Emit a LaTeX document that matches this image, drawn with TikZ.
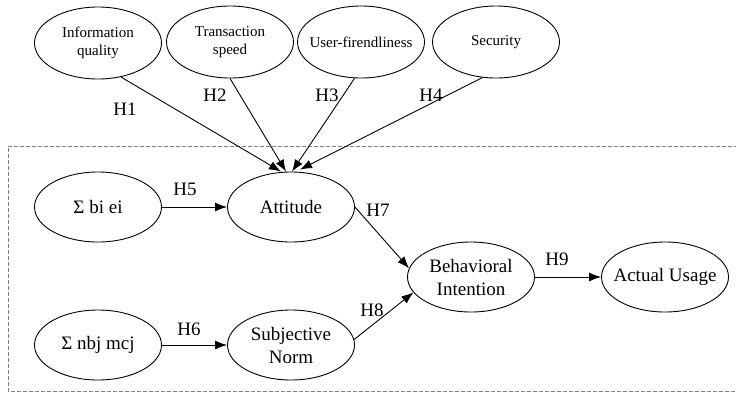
\documentclass[tikz,border=0pt]{standalone}
\usepackage{fontspec}
\setmainfont{Liberation Serif}
\usetikzlibrary{shapes.geometric,arrows.meta}
\begin{document}
\begin{tikzpicture}[x=1pt,y=-1pt]
\tikzstyle{factor}=[draw,ellipse,line width=0.9pt,inner xsep=-15pt,inner ysep=0pt,minimum width=127pt,minimum height=72pt,align=center,font=\rmfamily\fontsize{15}{18}\selectfont]
\tikzstyle{construct}=[draw,ellipse,line width=0.9pt,inner xsep=-15pt,inner ysep=0pt,minimum width=127pt,minimum height=70pt,align=center,font=\rmfamily\fontsize{19}{23}\selectfont]
\tikzstyle{link}=[line width=0.9pt,-{Latex[length=12pt,width=9pt]}]
\tikzstyle{hyp}=[inner sep=0pt,font=\rmfamily\fontsize{19}{20}\selectfont]
\useasboundingbox (0,0) rectangle (736,392);
% dashed boundary of the TRA part
\draw[gray,dash pattern=on 4pt off 2pt,line width=0.7pt] (738,146) -- (8,146) -- (8,391) -- (738,391);
% external factors
\node[factor] (info) at (98,43) {Information\\quality};
\node[factor] (speed) at (230,42) {Transaction\\speed};
\node[factor] (friendly) at (361,42) {User-firendliness};
\node[factor] (security) at (496,42) {Security};
% model constructs
\node[construct] (beliefs) at (98,207) {Σ bi ei};
\node[construct] (attitude) at (291,207) {Attitude};
\node[construct] (norms) at (98,345) {Σ nbj mcj};
\node[construct] (subjective norm) at (291,345) {Subjective\\Norm};
\node[construct] (intention) at (471,277) {Behavioral\\Intention};
\node[construct] (usage) at (665,277) {Actual Usage};
% paths
\draw[link] (info.-56) -- ([xshift=-10pt]attitude.north);
\draw[link] (speed.south) -- ([xshift=-5pt]attitude.north);
\draw[link] (friendly.-100) -- ([xshift=1pt]attitude.north);
\draw[link] (security.-111) -- ([xshift=9pt,yshift=2pt]attitude.north);
\draw[link] (beliefs) -- (attitude);
\draw[link] (norms) -- (subjective norm);
\draw[link] (attitude.east) -- (intention.172);
\draw[link] (subjective norm.5) -- (intention.-165);
\draw[link] (intention) -- (usage);
% hypotheses
\node[hyp] (h1) at (125,109) {H1};
\node[hyp] (h2) at (215,95) {H2};
\node[hyp] (h3) at (327,95) {H3};
\node[hyp] (h4) at (431,95) {H4};
\node[hyp] (h5) at (185,189) {H5};
\node[hyp] (h6) at (189,329) {H6};
\node[hyp] (h7) at (378,210) {H7};
\node[hyp] (h8) at (372,310) {H8};
\node[hyp] (h9) at (557,259) {H9};
\end{tikzpicture}
\end{document}
